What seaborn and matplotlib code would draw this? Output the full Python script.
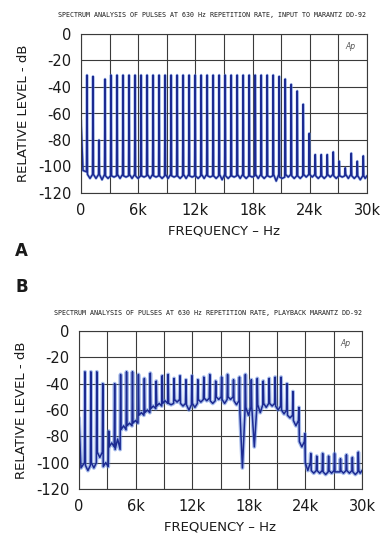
import matplotlib
matplotlib.use("Agg")
import matplotlib.pyplot as plt
import seaborn as sns
import pandas as pd

# =======================
# Data
# =======================
rep_rate = 630  # Hz, harmonic spacing
harmonics = list(range(1, 48))

# A: input to Marantz DD-92 - peak level of each harmonic (dB)
peaks_a = [-31, -32, -80, -34, -31, -31, -31, -31, -31, -31,
           -31, -31, -31, -31, -31, -31, -31, -31, -31, -31,
           -31, -31, -31, -31, -31, -31, -31, -31, -31, -31,
           -31, -31, -32, -34, -38, -43, -53, -75, -91, -91,
           -91, -89, -96, -101, -90, -96, -92]
# A: floor between harmonics (edge near spikes, middle of the gap)
edge_a = [-104, -106, -106, -106, -107, -107, -106, -107, -106, -107,
          -107, -106, -107, -107, -106, -107, -107, -106, -107, -107,
          -106, -107, -107, -106, -107, -107, -106, -107, -107, -106,
          -107, -107, -106, -108, -106, -107, -107, -106, -106, -107,
          -107, -106, -107, -107, -106, -107, -107, -107]
mid_a = [-103, -109, -109, -110, -109, -108, -109, -108, -109, -109,
         -108, -109, -108, -109, -109, -108, -109, -109, -108, -109,
         -109, -108, -109, -110, -109, -108, -109, -109, -108, -109,
         -109, -108, -111, -109, -108, -109, -109, -108, -108, -109,
         -109, -108, -109, -108, -109, -109, -110, -109]
start_a = -65

# B: playback Marantz DD-92
peaks_b = [-31, -31, -31, -40, -76, -40, -33, -31, -31, -33,
           -36, -32, -38, -34, -33, -36, -34, -37, -34, -37,
           -35, -33, -38, -35, -33, -37, -35, -33, -37, -36,
           -38, -36, -35, -35, -40, -46, -58, -78, -93, -95,
           -93, -95, -93, -97, -94, -96, -92]
edge_b = [-100, -102, -100, -92, -103, -88, -90, -75, -72, -70,
          -64, -62, -59, -57, -55, -55, -52, -55, -56, -55,
          -52, -51, -53, -50, -52, -50, -53, -62, -58, -58,
          -56, -55, -55, -57, -60, -64, -68, -84, -100, -106,
          -106, -107, -106, -107, -106, -106, -107, -106]
mid_b = [-104, -106, -104, -96, -100, -85, -82, -72, -70, -68,
         -62, -60, -57, -55, -53, -56, -54, -57, -60, -58,
         -54, -53, -55, -52, -55, -52, -56, -104, -64, -88,
         -62, -58, -57, -60, -63, -66, -72, -88, -106, -108,
         -108, -109, -108, -107, -108, -108, -109, -108]
start_b = -66

x_ticks = list(range(0, 30001, 3000))
x_labels = ["0", "", "6k", "", "12k", "", "18k", "", "24k", "", "30k"]
y_ticks = [0, -20, -40, -60, -80, -100, -120]
y_labels = ["0", "-20", "-40", "-60", "-80", "-100", "-120"]

title_a = "SPECTRUM ANALYSIS OF PULSES AT 630 Hz REPETITION RATE, INPUT TO MARANTZ DD-92"
title_b = "SPECTRUM ANALYSIS OF PULSES AT 630 Hz REPETITION RATE, PLAYBACK MARANTZ DD-92"


def build_trace(start, peaks, edge, mid, w=50):
    # walk along the spectrum: gap floor, spike, gap floor ...
    freqs = [0]
    levels = [start]
    n_gaps = len(harmonics) + 1
    for i in range(n_gaps):
        lo = i * rep_rate
        hi = min((i + 1) * rep_rate, 30000)
        if i > 0:
            freqs.append(lo + w)
            levels.append(edge[i])
        freqs.append(lo + (hi - lo) / 2 if i > 0 else rep_rate / 3)
        levels.append(mid[i])
        if i < len(harmonics):
            freqs += [hi - w, hi]
            levels += [edge[i], peaks[i]]
        else:
            freqs.append(30000)
            levels.append(edge[i])
    return pd.DataFrame({"freq": freqs, "level": levels})


trace_a = build_trace(start_a, peaks_a, edge_a, mid_a)
trace_b = build_trace(start_b, peaks_b, edge_b, mid_b)

# =======================
# Plot
# =======================
sns.set_style("white")
plt.rcParams["font.family"] = ["DejaVu Sans"]
ink = "#1a1a1a"

fig = plt.figure(figsize=(3.86, 5.34), dpi=100)
W, H = 386, 534


def axes_px(left, top, right, bottom):
    return fig.add_axes([left / W, 1 - bottom / H, (right - left) / W, (bottom - top) / H])


ax_a = axes_px(81, 34, 367, 193)
ax_b = axes_px(79, 331, 362, 489)

for ax, tr, halo in [(ax_a, trace_a, 2.0), (ax_b, trace_b, 2.8)]:
    sns.lineplot(data=tr, x="freq", y="level", ax=ax, estimator=None, sort=False,
                 color="#5f86dc", linewidth=halo, alpha=0.55)
    sns.lineplot(data=tr, x="freq", y="level", ax=ax, estimator=None, sort=False,
                 color="#1c2a92", linewidth=1.1)
    ax.set_xlim(0, 30000)
    ax.set_ylim(-120, 0)
    ax.set_xticks(x_ticks)
    ax.set_xticklabels(x_labels)
    ax.set_yticks(y_ticks)
    ax.set_yticklabels(y_labels)
    ax.grid(True, color="#3a3a3a", linewidth=0.8)
    ax.set_axisbelow(True)
    for s in ax.spines.values():
        s.set_color("#3a3a3a")
        s.set_linewidth(0.8)
    ax.tick_params(length=0, labelsize=10.5, colors=ink, pad=7)
    ax.set_xlabel("FREQUENCY – Hz", fontsize=9.5, color=ink, labelpad=5)
    ax.set_ylabel("RELATIVE LEVEL - dB", fontsize=9.5, color=ink, labelpad=6)
    ax.text(0.96, 0.95, "Ap", transform=ax.transAxes, ha="right", va="top",
            fontsize=5.5, style="italic", color="#555555")

fig.text(212 / W, 1 - 15 / H, title_a, ha="center", va="center",
         fontsize=4.8, family="DejaVu Sans Mono", color=ink)
fig.text(208.5 / W, 1 - 313 / H, title_b, ha="center", va="center",
         fontsize=4.8, family="DejaVu Sans Mono", color=ink)
fig.text(21.5 / W, 1 - 251 / H, "A", ha="center", va="center",
         fontsize=12, fontweight="bold", color=ink)
fig.text(22 / W, 1 - 287 / H, "B", ha="center", va="center",
         fontsize=12, fontweight="bold", color=ink)

fig.savefig("out.png", dpi=100)
